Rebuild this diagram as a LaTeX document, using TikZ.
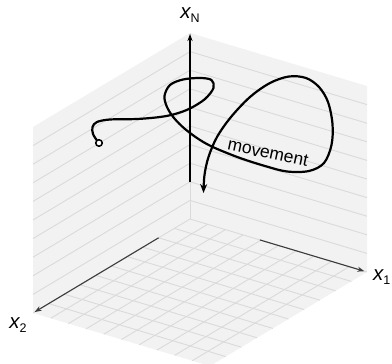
\documentclass[tikz,border=0pt]{standalone}
\usepackage{fontspec}
\setmainfont{Liberation Sans}
\usetikzlibrary{arrows.meta,calc}
\definecolor{facefill}{HTML}{F2F2F2}
\definecolor{gridline}{HTML}{DADADA}
\definecolor{axisgrey}{HTML}{3C3C3C}
\newcommand{\axlabel}[1]{{\fontsize{20.5}{22}\selectfont\itshape x}{\fontsize{12.5}{13}\selectfont\raisebox{-4pt}{#1}}}
\tikzset{
  face/.style={fill=facefill, draw=none},
  gridl/.style={draw=gridline, line width=0.9pt},
  axisline/.style={line width=1.1pt, -{Stealth[length=7pt,width=5pt]}},
  movepath/.style={line width=2.2pt, line cap=round, line join=round},
  lbl/.style={inner sep=0pt}
}
\begin{document}
\begin{tikzpicture}[x=1pt,y=-1pt]
\useasboundingbox (0,0) rectangle (392,364);
% box corners
\coordinate (O) at (190,219);
\coordinate (A) at (367,272);
\coordinate (B) at (33,313);
\coordinate (T) at (190,33);
\coordinate (R) at (367,86);
\coordinate (Q) at (33,127);
\coordinate (F) at (210,366);
% faces
\fill[face] (O) -- (A) -- (R) -- (T) -- cycle;
\fill[face] (O) -- (B) -- (Q) -- (T) -- cycle;
\fill[face] (O) -- (A) -- (F) -- (B) -- cycle;
% wall lines
\foreach \k in {0.1,0.2,...,0.95} {
  \draw[gridl] ($(O)!\k!(T)$) -- ($(A)!\k!(R)$);
  \draw[gridl] ($(O)!\k!(T)$) -- ($(B)!\k!(Q)$);
}
\draw[gridl] (O) -- (A);
\draw[gridl] (O) -- (B);
% floor grid
\foreach \k in {0.1,0.2,...,0.95} {
  \draw[gridl] ($(O)!\k!(A)$) -- ($(B)!\k!(F)$);
  \draw[gridl] ($(O)!\k!(B)$) -- ($(A)!\k!(F)$);
}
% corner edge
\draw[gridl] (O) -- (T);
% axes
\coordinate (xNs) at (190,182);
\coordinate (xNe) at (190,34);
\coordinate (x1s) at ($(O)!0.395!(A)$);
\coordinate (x1e) at ($(O)!0.985!(A)$);
\coordinate (x2s) at ($(O)!0.2!(B)$);
\coordinate (x2e) at ($(O)!0.99!(B)$);
\draw[axisline, black] (xNs) -- (xNe);
\draw[axisline, axisgrey] (x1s) -- (x1e);
\draw[axisline, axisgrey] (x2s) -- (x2e);
\node[lbl] (lN) at (190,15) {\axlabel{N}};
\node[lbl, anchor=west] (l1) at (373,277) {\axlabel{1}};
\node[lbl] (l2) at (18,325) {\axlabel{2}};
% movement curve
\draw[movepath, -{Stealth[length=9pt,width=7pt]}] plot[smooth, tension=0.55] coordinates {
  (97,140.5) (93,134) (92.5,127) (97,122) (110,119.5) (137,119) (160,117) (175,114)
  (190,108.5) (205,99) (213.5,88) (211.5,80) (200,78) (183,79.5) (170,85) (164.5,96)
  (167,107) (174,118) (185,129) (200,140) (215,148) (240,158) (265,166) (287,171.5)
  (309,171) (324,163) (331.5,145) (332.5,124) (328,102) (319,87) (306,78) (289,76.5)
  (270,83) (250,97) (231,117) (217,137) (208.5,157) (204.5,175) (203.5,193)};
\node[draw=black, fill=white, circle, line width=1.5pt, minimum size=6.5pt, inner sep=0pt] (start) at (99,143) {};
\node[lbl, rotate=-12] (mv) at (268,153) {\fontsize{17.5}{20}\selectfont movement};
\end{tikzpicture}
\end{document}
